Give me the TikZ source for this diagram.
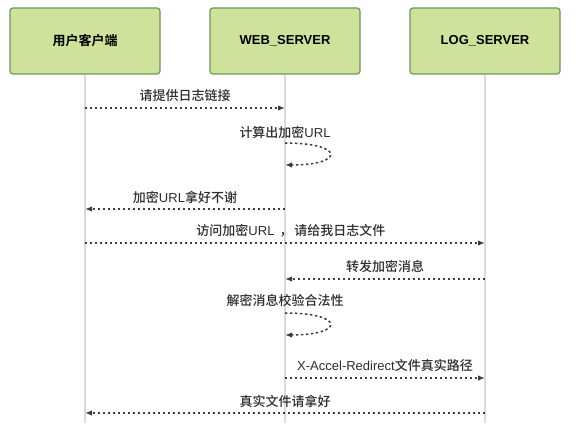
\documentclass[tikz,border=0pt]{standalone}
\usepackage{fontspec}
\setmainfont{Liberation Sans}
\newfontfamily\cjk{Noto Sans CJK SC}[BoldFont={Noto Sans CJK SC Bold}]
\newfontfamily\cjkm{Noto Sans CJK SC Medium}
\usetikzlibrary{arrows.meta}
\definecolor{boxfill}{RGB}{207,226,155}
\definecolor{boxdraw}{RGB}{110,150,88}
\definecolor{lifegray}{RGB}{218,218,218}
\definecolor{msgcol}{RGB}{60,60,60}
\definecolor{txtcol}{RGB}{45,45,45}
\begin{document}
\begin{tikzpicture}[x=1pt,y=-1pt,
  actor/.style={draw=boxdraw,fill=boxfill,line width=1.2pt,rounded corners=3pt,
    minimum width=150pt,minimum height=66pt,inner sep=0pt,font=\fontsize{13}{15}\selectfont\bfseries},
  lifeline/.style={draw=lifegray,line width=2pt},
  msg/.style={draw=msgcol,line width=1.5pt,dash pattern=on 2.4pt off 2.6pt,
    -{Latex[length=7pt,width=5.5pt]}},
  lbl/.style={inner sep=0pt,text=txtcol,font=\fontsize{13}{15}\selectfont}]
\useasboundingbox (0,0) rectangle (578,435);
% actors
\node[actor] (u) at (85,41) {\cjk 用户客户端};
\node[actor] (w) at (285,41) {WEB\_SERVER};
\node[actor] (l) at (485,41) {LOG\_SERVER};
\coordinate (ub) at (85,423);
\coordinate (wb) at (285,423);
\coordinate (lb) at (485,423);
\draw[lifeline] (u.south) -- (ub);
\draw[lifeline] (w.south) -- (wb);
\draw[lifeline] (l.south) -- (lb);
% message anchor points
\coordinate (u1) at (85,108);  \coordinate (w1) at (285,108);
\coordinate (w2a) at (285,143); \coordinate (w2b) at (285,165);
\coordinate (w3) at (285,209); \coordinate (u3) at (85,209);
\coordinate (u4) at (85,243);  \coordinate (l4) at (485,243);
\coordinate (l5) at (485,279); \coordinate (w5) at (285,279);
\coordinate (w6a) at (285,313); \coordinate (w6b) at (285,335);
\coordinate (w7) at (285,378); \coordinate (l7) at (485,378);
\coordinate (l8) at (485,413); \coordinate (u8) at (85,413);
% messages
\draw[msg] (u1) -- (w1);
\node[lbl] (t1) at (185,96) {\cjkm 请提供日志链接};
\draw[msg] (w2a) .. controls (345,143) and (345,165) .. (w2b);
\node[lbl] (t2) at (285,132) {{\cjkm 计算出加密}URL};
\draw[msg] (w3) -- (u3);
\node[lbl] (t3) at (185,197) {{\cjkm 加密}URL{\cjkm 拿好不谢}};
\draw[msg] (u4) -- (l4);
\node[lbl] (t4) at (291,231) {{\cjkm 访问加密}URL\hspace{5pt}{\cjkm ，}\hspace{2pt}{\cjkm 请给我日志文件}};
\draw[msg] (l5) -- (w5);
\node[lbl] (t5) at (385,267) {\cjkm 转发加密消息};
\draw[msg] (w6a) .. controls (345,313) and (345,335) .. (w6b);
\node[lbl] (t6) at (285,301) {\cjkm 解密消息校验合法性};
\draw[msg] (w7) -- (l7);
\node[lbl] (t7) at (385,366) {X-Accel-Redirect{\cjkm 文件真实路径}};
\draw[msg] (l8) -- (u8);
\node[lbl] (t8) at (285,401) {\cjkm 真实文件请拿好};
\end{tikzpicture}
\end{document}
